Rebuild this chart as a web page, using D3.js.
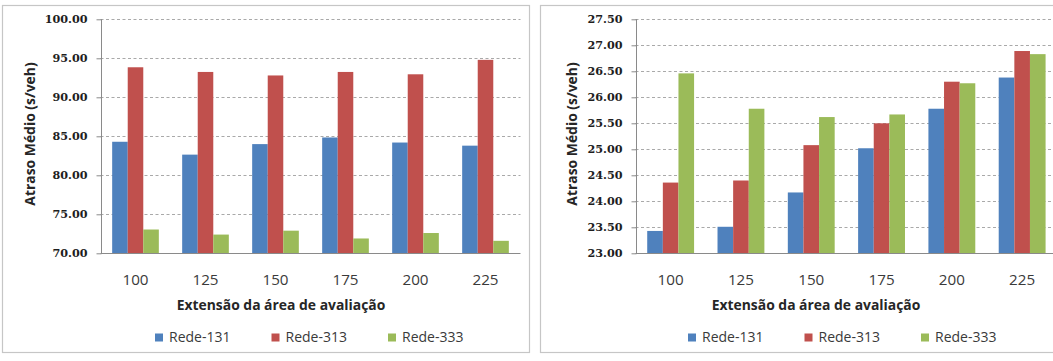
<!DOCTYPE html>
<html><head><meta charset="utf-8">
<script src="https://cdn.jsdelivr.net/npm/d3@7"></script>
<style>
html,body{margin:0;padding:0;background:#fff;}
svg{display:block;}
</style></head>
<body>
<svg id="c" width="1053" height="361"></svg>
<script>
// ---- data ----
const categories = ["100", "125", "150", "175", "200", "225"];
const seriesNames = ["Rede-131", "Rede-313", "Rede-333"];
const colors = ["#4F81BD", "#C0504D", "#9BBB59"];

const left131 = [84.30, 82.65, 84.00, 84.85, 84.20, 83.80];
const left313 = [93.85, 93.25, 92.80, 93.25, 92.95, 94.80];
const left333 = [73.05, 72.40, 72.90, 71.90, 72.60, 71.60];
const leftTicks = [70, 75, 80, 85, 90, 95, 100];

const right131 = [23.43, 23.51, 24.17, 25.02, 25.78, 26.38];
const right313 = [24.36, 24.40, 25.08, 25.50, 26.30, 26.89];
const right333 = [26.46, 25.78, 25.62, 25.67, 26.27, 26.83];
const rightTicks = [23.0, 23.5, 24.0, 24.5, 25.0, 25.5, 26.0, 26.5, 27.0, 27.5];

const yTitle = "Atraso Médio (s/veh)";
const xTitle = "Extensão da área de avaliação";

// ---- layout ----
const svg = d3.select("#c");
const plotTop = 19.3, plotBottom = 253.3;

function drawChart(cfg) {
  const g = svg.append("g");
  // frame
  g.append("rect")
    .attr("x", cfg.frameX).attr("y", 5.5)
    .attr("width", cfg.frameW).attr("height", 347)
    .attr("fill", "#fff").attr("stroke", "#c6c6c6").attr("stroke-width", 1.2);

  const y = d3.scaleLinear().domain(cfg.domain).range([plotBottom, plotTop]);
  const x0 = d3.scaleBand().domain(categories).range([cfg.axisX, cfg.axisX + cfg.plotW]).padding(0);
  const x1 = d3.scaleBand().domain(seriesNames).range([0, x0.bandwidth()]).paddingInner(0).paddingOuter(0.75);

  // gridlines
  g.append("g").selectAll("line").data(cfg.ticks.slice(1)).join("line")
    .attr("x1", cfg.axisX).attr("x2", cfg.axisX + cfg.plotW)
    .attr("y1", d => Math.round(y(d)) + 0.5).attr("y2", d => Math.round(y(d)) + 0.5)
    .attr("stroke", "#939393").attr("stroke-width", 0.8).attr("stroke-dasharray", "3,2.5");

  // bars
  const rows = categories.map((c, i) => ({ c, vals: cfg.series.map((s, k) => ({ name: seriesNames[k], v: s[i], color: colors[k] })) }));
  g.append("g").selectAll("g").data(rows).join("g")
    .attr("transform", d => `translate(${x0(d.c)},0)`)
    .selectAll("rect").data(d => d.vals).join("rect")
    .attr("x", d => x1(d.name)).attr("width", x1.bandwidth())
    .attr("y", d => y(d.v)).attr("height", d => y(cfg.domain[0]) - y(d.v))
    .attr("fill", d => d.color);

  // y axis
  const yAxis = d3.axisLeft(y).tickValues(cfg.ticks).tickFormat(d3.format(".2f")).tickSize(5).tickPadding(9);
  const ya = g.append("g").attr("transform", `translate(${Math.round(cfg.axisX) + 0.5},0)`).call(yAxis);
  ya.select(".domain").attr("stroke", "#8a8a8a").attr("d", `M0,${plotTop}V${plotBottom}`);
  ya.selectAll(".tick line").attr("stroke", "#8a8a8a");
  ya.selectAll(".tick text").attr("font-family", "'DejaVu Serif'").attr("font-weight", "bold")
    .attr("font-size", 11.2).attr("fill", "#1e1e1e");

  // x axis
  const xAxis = d3.axisBottom(x0).tickSize(0).tickPadding(0);
  const xa = g.append("g").attr("transform", `translate(0,${Math.round(plotBottom) + 0.5})`).call(xAxis);
  xa.select(".domain").attr("stroke", "#8a8a8a").attr("d", `M${cfg.axisX},0H${cfg.axisX + cfg.plotW}`);
  xa.selectAll(".tick text").attr("font-family", "'Open Sans'").attr("font-size", 15.2)
    .attr("fill", "#3a3a3a").attr("dy", null).attr("y", 31.5);

  // axis titles
  g.append("text").attr("transform", `translate(${cfg.yTitleX},${cfg.yTitleY}) rotate(-90)`)
    .attr("text-anchor", "middle").attr("font-family", "'Open Sans'").attr("font-weight", "bold")
    .attr("font-size", 13.9).attr("fill", "#262626").text(yTitle);
  g.append("text").attr("x", cfg.xTitleX).attr("y", 309.5)
    .attr("text-anchor", "middle").attr("font-family", "'Open Sans'").attr("font-weight", "bold")
    .attr("font-size", 13.9).attr("fill", "#262626").text(xTitle);

  // legend
  const lg = g.append("g").selectAll("g").data(seriesNames).join("g")
    .attr("transform", (d, i) => `translate(${cfg.legendX + i * 116.5},0)`);
  lg.append("rect").attr("x", 0).attr("y", 333.5).attr("width", 8).attr("height", 8)
    .attr("fill", (d, i) => colors[i]);
  lg.append("text").attr("x", 14).attr("y", 342).attr("font-family", "'Open Sans'")
    .attr("font-size", 14).attr("fill", "#3a3a3a").text(d => d);
}

drawChart({
  frameX: 2.5, frameW: 527, axisX: 100.5, plotW: 420,
  domain: [70, 100], ticks: leftTicks, series: [left131, left313, left333],
  yTitleX: 35, yTitleY: 134, xTitleX: 281, legendX: 155
});
drawChart({
  frameX: 540.5, frameW: 600, axisX: 635.5, plotW: 421.8,
  domain: [23, 27.5], ticks: rightTicks, series: [right131, right313, right333],
  yTitleX: 577, yTitleY: 134, xTitleX: 816, legendX: 688
});
</script>
</body></html>
